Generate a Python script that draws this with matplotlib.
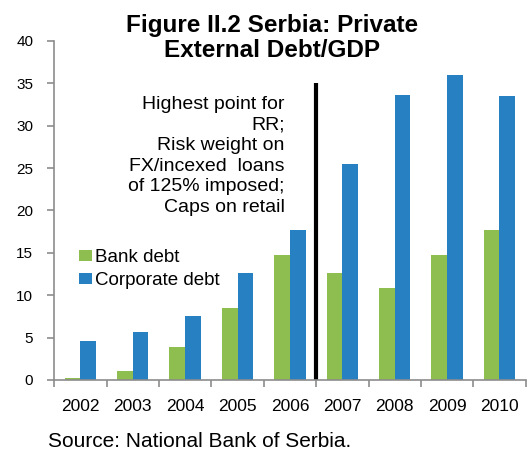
"""Figure II.2 Serbia: private external debt / GDP, bank vs corporate."""
import matplotlib

matplotlib.use("Agg")
import matplotlib.pyplot as plt
import numpy as np

plt.rcParams["font.family"] = ["Liberation Sans", "DejaVu Sans"]

YEARS = ["2002", "2003", "2004", "2005", "2006", "2007", "2008", "2009", "2010"]
BANK_DEBT = [0.25, 1.1, 3.9, 8.5, 14.8, 12.6, 10.9, 14.8, 17.7]
CORPORATE_DEBT = [4.6, 5.7, 7.6, 12.6, 17.7, 25.5, 33.6, 36.0, 33.5]
Y_TICKS = [0, 5, 10, 15, 20, 25, 30, 35, 40]
MARKER_POS = 4.5
MARKER_TOP = 35
NOTE = ("Highest point for\nRR;\nRisk weight on\nFX/incexed  loans\n"
        "of 125% imposed;\nCaps on retail")

GREEN = "#8FBE50"
BLUE = "#2680C2"
GREY = "#8C8C8C"

fig = plt.figure(figsize=(5.31, 4.5), dpi=100)
ax = fig.add_axes([0.102, 0.1556, 0.888, 0.7533])

x = np.arange(len(YEARS))
w = 0.30
ax.bar(x - w / 2, BANK_DEBT, width=w, color=GREEN, label="Bank debt")
ax.bar(x + w / 2, CORPORATE_DEBT, width=w, color=BLUE, label="Corporate debt")

# policy marker between 2006 and 2007
ax.plot([MARKER_POS, MARKER_POS], [0, MARKER_TOP], color="black", lw=3,
        solid_capstyle="butt", clip_on=False)

ax.set_xlim(-0.5, len(YEARS) - 0.5)
ax.set_ylim(0, 40)
ax.set_yticks(Y_TICKS)
ax.set_yticklabels([str(t) for t in Y_TICKS], fontsize=11)
ax.set_xticks(x)
ax.set_xticklabels(YEARS, fontsize=12.5)
ax.set_xticks(np.arange(len(YEARS) + 1) - 0.5, minor=True)
ax.tick_params(axis="x", which="major", length=0, pad=14)
ax.tick_params(axis="x", which="minor", length=5, width=1.2, color=GREY,
               direction="out")
ax.tick_params(axis="y", length=5, width=1.2, color=GREY, pad=10)

for side in ("top", "right"):
    ax.spines[side].set_visible(False)
for side in ("left", "bottom"):
    ax.spines[side].set_color(GREY)
    ax.spines[side].set_linewidth(1.2)

ax.text(3.9, 33.5, NOTE, ha="right", va="top", fontsize=14,
        linespacing=1.27)

ax.legend(loc="upper left", bbox_to_anchor=(0.053, 0.385), frameon=False,
          fontsize=13.5, handlelength=0.7, handleheight=0.5,
          handletextpad=0.15, labelspacing=0.3, borderpad=0,
          borderaxespad=0)

fig.text(0.512, 0.916, "Figure II.2 Serbia: Private\nExternal Debt/GDP",
         ha="center", va="center", fontsize=17.5, fontweight="bold",
         linespacing=1.12)
fig.text(0.09, 0.006, "Source: National Bank of Serbia.", ha="left",
         va="baseline", fontsize=15)

fig.savefig("out.png", dpi=100)
